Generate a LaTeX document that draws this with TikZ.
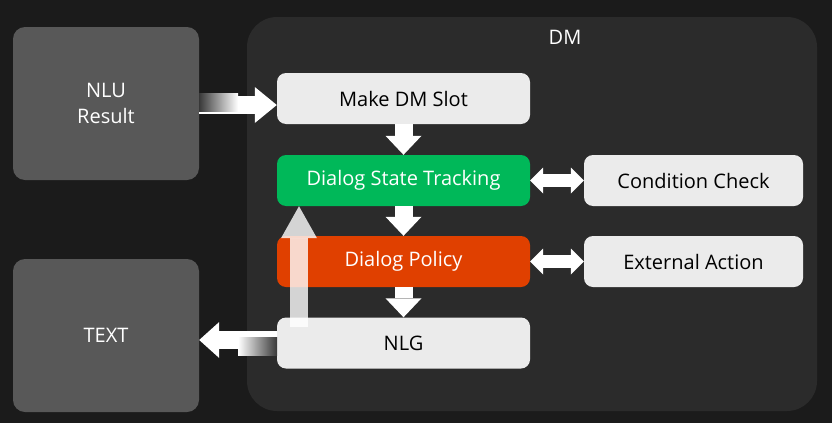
\documentclass[tikz,border=0pt]{standalone}
\usepackage{fontspec}
\setmainfont{Open Sans}
\usetikzlibrary{arrows.meta}

\definecolor{bg}{RGB}{27,27,27}
\definecolor{dmgrey}{RGB}{43,43,43}
\definecolor{outgrey}{RGB}{88,88,88}
\definecolor{paper}{RGB}{235,235,235}
\definecolor{dstgreen}{RGB}{0,184,89}
\definecolor{polred}{RGB}{224,64,0}

\begin{document}
\begin{tikzpicture}
  [x=1pt,y=-1pt,font=\fontsize{20}{26}\selectfont,
   every node/.style={rounded corners=9pt,inner sep=0pt,align=center},
   stage/.style={fill=paper,text=black,minimum width=253pt,minimum height=51pt},
   side/.style={fill=paper,text=black,minimum width=219pt,minimum height=51pt},
   outer/.style={fill=outgrey,text=white,minimum width=186pt,minimum height=153pt,rounded corners=12pt},
   flow/.style={draw=white,line width=18pt,-{Triangle[width=36pt,length=#1,line width=0pt]}},
   flow/.default=20pt,
   both/.style={draw=white,line width=13pt,{Triangle[width=26pt,length=13pt,line width=0pt]}-{Triangle[width=26pt,length=13pt,line width=0pt]}}]

  \fill[bg] (0,0) rectangle (832,423);
  \fill[dmgrey,rounded corners=30pt] (247,17) rectangle (817,411);
  \node[text=white] (dm) at (565,37) {DM};

  \node[outer] (nlu) at (106,103.5) {NLU\\Result};
  \node[outer] (text) at (106,335.5) {TEXT};
  \node[stage] (slot) at (403.5,98.5) {Make DM Slot};
  \node[stage,fill=dstgreen,text=white] (dst) at (403.5,180.5) {Dialog State Tracking};
  \node[stage,fill=polred,text=white] (policy) at (403.5,261.5) {Dialog Policy};
  \node[stage] (nlg) at (403.5,343) {NLG};
  \node[side] (check) at (693.5,180.5) {Condition Check};
  \node[side] (action) at (693.5,261.5) {External Action};

  \foreach \from/\to in {slot/dst,dst/policy,policy/nlg}
    \draw[flow=19pt] (\from) -- (\to);
  \foreach \from/\to in {dst/check,policy/action}
    \draw[both] (\from) -- (\to);

  % in and out, fading into the boxes
  \draw[flow=22pt] ([yshift=-1.5pt]nlu.east) -- ([yshift=-1.5pt]nlu.east -| slot.west);
  \shade[left color=dmgrey!70!outgrey,right color=white] (199,93) rectangle (238,111);
  \draw[flow] ([yshift=3pt]nlg.west) -- ([yshift=3pt]nlg.west -| text.east);
  \shade[left color=white,right color=dmgrey!70!outgrey] (238,337) rectangle (277,355);

  % back up to tracking
  \coordinate (lift) at (299,327);
  \draw[flow=32pt,opacity=0.8] (lift) -- (lift |- dst.south);

\end{tikzpicture}
\end{document}
